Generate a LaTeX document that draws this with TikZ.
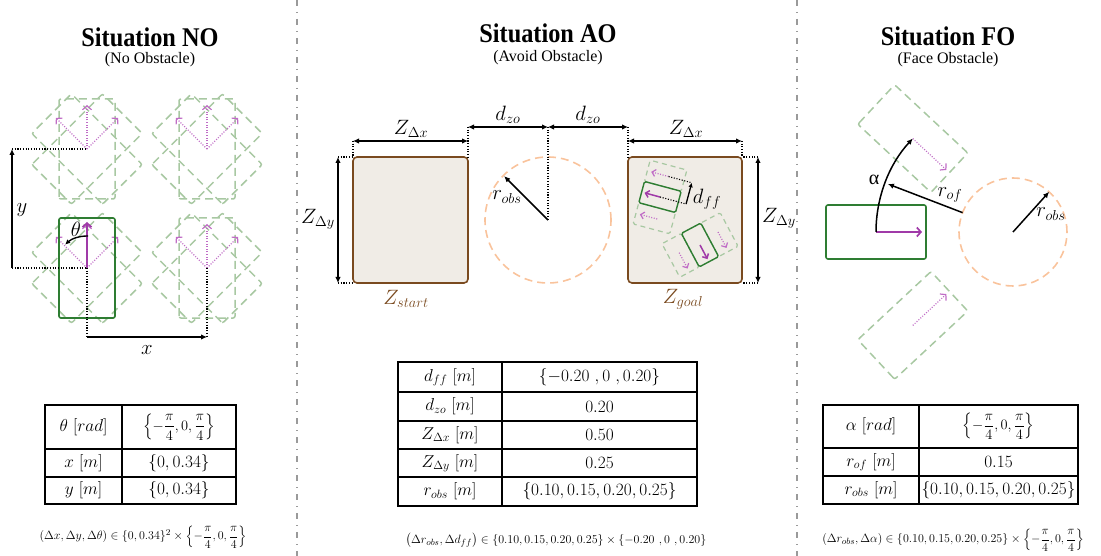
\documentclass[tikz,border=0pt]{standalone}
\usepackage{fontspec}
\usepackage{amsmath}
\usetikzlibrary{arrows.meta}
\newfontfamily\titlefont{Liberation Serif}
\newfontfamily\greekfont{Liberation Serif}
\definecolor{rgreen}{HTML}{2E7D32}
\definecolor{ghost}{HTML}{A8C8A2}
\definecolor{mag}{HTML}{A03AA8}
\definecolor{magl}{HTML}{C06CC6}
\definecolor{obst}{HTML}{F9C39C}
\definecolor{zbrown}{HTML}{7A4A1F}
\definecolor{zfill}{HTML}{F0ECE6}
\definecolor{divgray}{HTML}{9A9A9A}
\tikzset{
  robot/.style={draw=rgreen, line width=1.6pt, rounded corners=2pt},
  robotS/.style={draw=rgreen, line width=1.4pt, rounded corners=1.5pt},
  ghostbox/.style={draw=ghost, line width=1.5pt, dash pattern=on 8pt off 5pt, rounded corners=2pt},
  ghostboxS/.style={draw=ghost, line width=1.2pt, dash pattern=on 5pt off 4pt, rounded corners=1.5pt},
  heading/.style={draw=mag, line width=1.7pt, -{Straight Barb[length=4pt,width=9pt]}},
  headingS/.style={draw=mag, line width=1.5pt, -{Straight Barb[length=3.5pt,width=7pt]}},
  ghostarrow/.style={draw=magl, line width=1.2pt, dash pattern=on 1pt off 1.6pt, -{Straight Barb[length=4pt,width=9pt]}},
  ghostarrowS/.style={draw=magl, line width=1.2pt, dash pattern=on 1pt off 1.6pt, -{Straight Barb[length=3.5pt,width=7pt]}},
  dimarrow/.style={black, line width=1.5pt, {Latex[length=6pt,width=5.5pt]}-{Latex[length=6pt,width=5.5pt]}},
  onearrow/.style={black, line width=1.5pt, -{Latex[length=6pt,width=5.5pt]}},
  guide/.style={black, line width=1.1pt, dash pattern=on 1.1pt off 1.6pt},
  obstacle/.style={draw=obst, line width=1.6pt, dash pattern=on 8pt off 5pt},
  zone/.style={draw=zbrown, fill=zfill, line width=1.6pt, rounded corners=4pt},
  divider/.style={draw=divgray, line width=1.2pt, dash pattern=on 6pt off 6pt on 1pt off 6pt},
  tline/.style={line width=1.3pt},
  lbl/.style={font=\fontsize{19.5}{19.5}\selectfont, inner sep=0pt},
  tcell/.style={font=\fontsize{17}{17}\selectfont, inner sep=0pt},
  tfrac/.style={font=\fontsize{15.5}{15.5}\selectfont, inner sep=0pt},
  formula/.style={font=\fontsize{13}{13}\selectfont, inner sep=0pt},
  ttl/.style={inner sep=0pt},
}
\newcommand{\ttltext}[1]{\scalebox{0.9}[1]{\titlefont\bfseries\fontsize{27}{27}\selectfont #1}}
\newcommand{\subtext}[1]{\titlefont\fontsize{16}{16}\selectfont #1}
\begin{document}
\begin{tikzpicture}[x=1pt,y=1pt]
\useasboundingbox (0,0) rectangle (1101,-556);
% dividers
\coordinate (d1t) at (297,0); \coordinate (d1b) at (297,-556);
\coordinate (d2t) at (797,0); \coordinate (d2b) at (797,-556);
\draw[divider] (d1t) -- (d1b);
\draw[divider] (d2t) -- (d2b);
% titles
\node[ttl] (t1) at (150,-37) {\ttltext{Situation NO}};
\node[ttl] (s1) at (150,-60) {\subtext{(No Obstacle)}};
\node[ttl] (t2) at (548,-33) {\ttltext{Situation AO}};
\node[ttl] (s2) at (548,-58) {\subtext{(Avoid Obstacle)}};
\node[ttl] (t3) at (948,-36) {\ttltext{Situation FO}};
\node[ttl] (s3) at (948,-60) {\subtext{(Face Obstacle)}};

% ================= Situation NO =================
\coordinate (P00) at (87,-268);
\coordinate (P10) at (207,-268);
\coordinate (P01) at (87,-149);
\coordinate (P11) at (207,-149);
\foreach \p in {P00,P10,P01,P11}{
  \foreach \a in {-45,0,45}{
    \begin{scope}[shift={(\p)}, rotate=\a]
      \draw[ghostbox] (-28,-50) rectangle (28,50);
    \end{scope}
  }
  \foreach \a in {45,90,135}{
    \draw[ghostarrow] (\p) -- ++(\a:44);
  }
}
\begin{scope}[shift={(P00)}]
  \draw[robot] (-28,-50) rectangle (28,50);
  \draw[heading] (0,0) -- (0,46);
\end{scope}
\coordinate (ya) at (12,-268); \coordinate (yb) at (12,-149);
\coordinate (xa) at (87,-337); \coordinate (xb) at (207,-337);
\draw[guide] (ya) -- (P00);
\draw[guide] (yb) -- (P01);
\draw[guide] (P00) -- (xa);
\draw[guide] (P10) -- (xb);
\draw[onearrow] (ya) -- (yb);
\draw[onearrow] (xa) -- (xb);
\node[lbl, font=\fontsize{20}{20}\selectfont] (ylab) at (22,-210) {$y$};
\node[lbl, font=\fontsize{20}{20}\selectfont] (xlab) at (147,-350) {$x$};
\draw[black, line width=1.4pt, -{Latex[length=5pt,width=5pt]}] (P00) ++(88:32) arc[start angle=88, end angle=133, radius=32];
\node[lbl, font=\fontsize{20}{20}\selectfont] (thlab) at (76,-229) {$\theta$};

% table NO
\draw[tline] (45,-405) rectangle (236,-504);
\draw[tline] (122,-405) -- (122,-504);
\draw[tline] (45,-449) -- (236,-449);
\draw[tline] (45,-477) -- (236,-477);
\node[tcell] (a11) at (83.5,-427) {$\theta\ [rad]$};
\node[tfrac] (a12) at (179,-427) {$\left\{-\dfrac{\pi}{4},0,\dfrac{\pi}{4}\right\}$};
\node[tcell] (a21) at (83.5,-463) {$x\ [m]$};
\node[tcell] (a22) at (179,-463) {$\{0,0.34\}$};
\node[tcell] (a31) at (83.5,-490.5) {$y\ [m]$};
\node[tcell] (a32) at (179,-490.5) {$\{0,0.34\}$};
\node[formula] (f1) at (143,-537) {$(\Delta x,\Delta y,\Delta\theta)\in\{0,0.34\}^2\times\left\{-\dfrac{\pi}{4},0,\dfrac{\pi}{4}\right\}$};

% ================= Situation AO =================
\draw[zone] (353,-157) rectangle (468,-283);
\draw[zone] (628,-157) rectangle (742,-283);
\coordinate (C) at (548,-220);
\draw[obstacle] (C) circle[radius=63];
% guides
\coordinate (zsTL) at (353,-157); \coordinate (zsTR) at (468,-157); \coordinate (zsBL) at (353,-283);
\coordinate (zgTL) at (628,-157); \coordinate (zgTR) at (742,-157); \coordinate (zgBR) at (742,-283);
\coordinate (dz1) at (468,-127); \coordinate (dz2) at (548,-127); \coordinate (dz3) at (628,-127);
\coordinate (zx1) at (353,-141); \coordinate (zx2) at (468,-141);
\coordinate (zx3) at (628,-141); \coordinate (zx4) at (742,-141);
\coordinate (zy1) at (338,-157); \coordinate (zy2) at (338,-283);
\coordinate (zy3) at (758,-157); \coordinate (zy4) at (758,-283);
\draw[guide] (zx1) -- (zsTL);
\draw[guide] (dz1) -- (zsTR);
\draw[guide] (dz2) -- (C);
\draw[guide] (dz3) -- (zgTL);
\draw[guide] (zx4) -- (zgTR);
\draw[guide] (zy1) -- (zsTL);
\draw[guide] (zy2) -- (zsBL);
\draw[guide] (zy3) -- (zgTR);
\draw[guide] (zy4) -- (zgBR);
\draw[dimarrow] (zx1) -- (zx2);
\draw[dimarrow] (zx3) -- (zx4);
\draw[dimarrow] (dz1) -- (dz2);
\draw[dimarrow] (dz2) -- (dz3);
\draw[dimarrow] (zy1) -- (zy2);
\draw[dimarrow] (zy3) -- (zy4);
\node[lbl] (lzx1) at (411,-129) {$Z_{\Delta x}$};
\node[lbl] (lzx2) at (686,-129) {$Z_{\Delta x}$};
\node[lbl] (ldz1) at (508,-115) {$d_{zo}$};
\node[lbl] (ldz2) at (588,-115) {$d_{zo}$};
\node[lbl] (lzy1) at (318,-219) {$Z_{\Delta y}$};
\node[lbl] (lzy2) at (779,-218) {$Z_{\Delta y}$};
\node[lbl, text=zbrown] (lzs) at (406,-299) {$Z_{start}$};
\node[lbl, text=zbrown] (lzg) at (683,-299) {$Z_{goal}$};
\draw[onearrow] (C) -- ++(135:62);
\node[lbl] (lrobs1) at (507,-197) {$r_{obs}$};
% goal robots
\begin{scope}[shift={(660,-197)}, rotate=165]
  \draw[ghostboxS] (-19,11) rectangle (19,33);
  \draw[ghostboxS] (-19,-33) rectangle (19,-11);
  \draw[ghostarrowS] (-3,22) -- (15,22);
  \draw[ghostarrowS] (-3,-22) -- (15,-22);
  \draw[robotS] (-19,-11) rectangle (19,11);
  \draw[headingS] (0,0) -- (16,0);
  \draw[guide] (0,0) -- (-27,0);
  \draw[guide] (-3,-22) -- (-27,-22);
  \draw[black, line width=1.3pt, -{Latex[length=4.5pt,width=4.5pt]}] (-27,0) -- (-27,-22);
\end{scope}
\node[lbl] (ldff) at (707,-199) {$d_{ff}$};
\begin{scope}[shift={(700,-245)}, rotate=-62]
  \draw[ghostboxS] (-19,11) rectangle (19,33);
  \draw[ghostboxS] (-19,-33) rectangle (19,-11);
  \draw[ghostarrowS] (-3,22) -- (15,22);
  \draw[ghostarrowS] (-3,-22) -- (15,-22);
  \draw[robotS] (-19,-11) rectangle (19,11);
  \draw[headingS] (0,0) -- (16,0);
\end{scope}

% table AO
\draw[tline] (398,-362) rectangle (697,-506);
\draw[tline] (502,-362) -- (502,-506);
\foreach \yy in {392,421,449,477}{\draw[tline] (398,-\yy) -- (697,-\yy);}
\node[tcell] (b11) at (450,-377) {$d_{ff}\ [m]$};
\node[tcell] (b12) at (599.5,-377) {$\{-0.20\ ,0\ ,0.20\}$};
\node[tcell] (b21) at (450,-406.5) {$d_{zo}\ [m]$};
\node[tcell] (b22) at (599.5,-406.5) {$0.20$};
\node[tcell] (b31) at (450,-435) {$Z_{\Delta x}\ [m]$};
\node[tcell] (b32) at (599.5,-435) {$0.50$};
\node[tcell] (b41) at (450,-463) {$Z_{\Delta y}\ [m]$};
\node[tcell] (b42) at (599.5,-463) {$0.25$};
\node[tcell] (b51) at (450,-491.5) {$r_{obs}\ [m]$};
\node[tcell] (b52) at (599.5,-491.5) {$\{0.10,0.15,0.20,0.25\}$};
\node[formula] (f2) at (556,-540) {$\left(\Delta r_{obs},\Delta d_{ff}\right)\in\{0.10,0.15,0.20,0.25\}\times\{-0.20\ ,0\ ,0.20\}$};

% ================= Situation FO =================
\coordinate (O) at (1013,-232);
\coordinate (R0) at (876,-232);
\coordinate (G1) at (912.8,-138.6);
\coordinate (G2) at (912.8,-325.4);
\draw[obstacle] (O) circle[radius=54];
\begin{scope}[shift={(G1)}, rotate=-43]
  \draw[ghostbox] (-50,-27) rectangle (50,27);
  \draw[ghostarrow] (0,0) -- (46,0);
\end{scope}
\begin{scope}[shift={(G2)}, rotate=43]
  \draw[ghostbox] (-50,-27) rectangle (50,27);
  \draw[ghostarrow] (0,0) -- (46,0);
\end{scope}
\begin{scope}[shift={(R0)}]
  \draw[robot] (-50,-27) rectangle (50,27);
  \draw[heading] (0,0) -- (46,0);
\end{scope}
\draw[black, line width=1.5pt, -{Latex[length=6pt,width=5.5pt]}] (R0) arc[start angle=180, end angle=137, radius=137];
\node[lbl, font=\fontsize{20}{20}\selectfont] (lal) at (874,-180) {\greekfont α};
\draw[onearrow] (O) ++(159:54) -- ++(159:80);
\node[lbl] (lrof) at (950,-195) {$r_{of}$};
\draw[onearrow] (O) -- ++(48:54);
\node[lbl] (lrobs2) at (1051,-214) {$r_{obs}$};

% table FO
\draw[tline] (823,-405) rectangle (1078,-504);
\draw[tline] (919,-405) -- (919,-504);
\draw[tline] (823,-448) -- (1078,-448);
\draw[tline] (823,-476) -- (1078,-476);
\node[tcell] (c11) at (871,-426.5) {$\alpha\ [rad]$};
\node[tfrac] (c12) at (998.5,-426.5) {$\left\{-\dfrac{\pi}{4},0,\dfrac{\pi}{4}\right\}$};
\node[tcell] (c21) at (871,-462) {$r_{of}\ [m]$};
\node[tcell] (c22) at (998.5,-462) {$0.15$};
\node[tcell] (c31) at (871,-490) {$r_{obs}\ [m]$};
\node[tcell] (c32) at (998.5,-490) {$\{0.10,0.15,0.20,0.25\}$};
\node[formula] (f3) at (953,-540) {$(\Delta r_{obs},\Delta\alpha)\in\{0.10,0.15,0.20,0.25\}\times\left\{-\dfrac{\pi}{4},0,\dfrac{\pi}{4}\right\}$};
\end{tikzpicture}
\end{document}
